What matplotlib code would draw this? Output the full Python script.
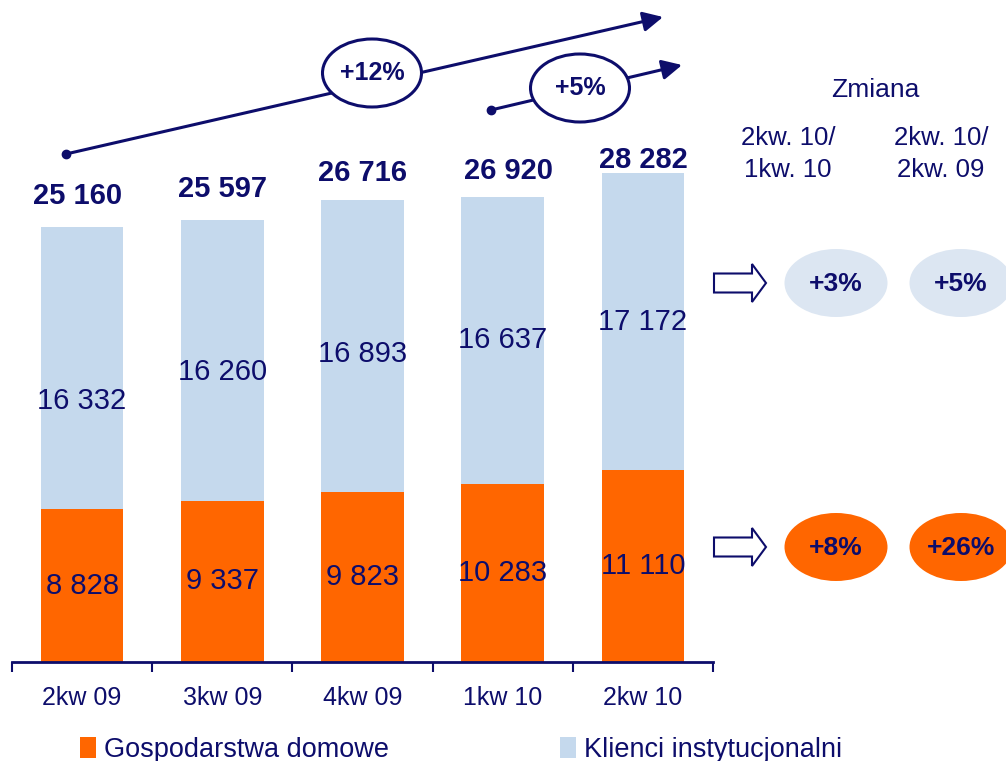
import matplotlib.pyplot as plt
from matplotlib.patches import Ellipse, Polygon
import numpy as np

plt.rcParams['font.family'] = ['Liberation Sans', 'DejaVu Sans']

# --- Data ---
quarters      = ["2kw 09", "3kw 09", "4kw 09", "1kw 10", "2kw 10"]
households    = [8828, 9337, 9823, 10283, 11110]
institutional = [16332, 16260, 16893, 16637, 17172]
series_names  = ["Gospodarstwa domowe", "Klienci instytucjonalni"]
trend_labels  = ["+12%", "+5%"]
change_title  = "Zmiana"
change_heads  = ["2kw. 10/\n1kw. 10", "2kw. 10/\n2kw. 09"]
change_inst   = ["+3%", "+5%"]
change_house  = ["+8%", "+26%"]

# --- Style ---
navy     = "#0D0D6B"
orange   = "#FF6600"
lblue    = "#C5D9ED"
pale     = "#DCE6F2"
W, H     = 1006, 761

def fmt(v):
    return f"{v:,}".replace(",", " ")

totals = np.array(households) + np.array(institutional)
x = np.arange(len(quarters))

fig = plt.figure(figsize=(W / 100, H / 100), dpi=100)
ax = fig.add_axes([12 / W, (H - 662) / H, 701 / W, 662 / H])

ax.bar(x, households, width=0.59, color=orange, label=series_names[0])
ax.bar(x, institutional, width=0.59, bottom=households, color=lblue, label=series_names[1])

ax.set_xlim(-0.5, 4.5)
ax.set_ylim(0, 38300)

# segment labels
blue_shift = [-33, -12, -8, 0, 0]   # px, small per-bar nudges as in the original
for i in x:
    ax.text(i, households[i] / 2, fmt(households[i]), ha="center", va="center",
            fontsize=21, color=navy)
    ax.annotate(fmt(institutional[i]), (i, households[i] + institutional[i] / 2),
                xytext=(0, blue_shift[i] * 0.72), textcoords="offset points",
                ha="center", va="center", fontsize=21, color=navy)

# totals above bars
top_gap = [23, 23, 19, 18, 5]
top_dx  = [-5, 0, 0, 6, 0]
for i in x:
    ax.annotate(fmt(totals[i]), (i, totals[i]),
                xytext=(top_dx[i] * 0.72, top_gap[i] * 0.72), textcoords="offset points",
                ha="center", va="baseline", fontsize=21, fontweight="bold", color=navy)

# axis
for s in ["top", "right", "left"]:
    ax.spines[s].set_visible(False)
ax.spines["bottom"].set_color(navy)
ax.spines["bottom"].set_linewidth(2)
ax.set_yticks([])
ax.set_xticks(x)
ax.set_xticklabels(quarters, fontsize=18, color=navy)
ax.tick_params(axis="x", which="major", length=0, pad=17)
ax.set_xticks(np.arange(-0.5, 5.0, 1.0), minor=True)
ax.tick_params(axis="x", which="minor", length=7, width=1.5, color=navy)

# legend
fig.legend(loc="center left", bbox_to_anchor=(80 / W, 1 - 750 / H), ncol=2,
           frameon=False, fontsize=19.5, labelcolor=navy, handlelength=0.6,
           handleheight=0.8, handletextpad=0.3, columnspacing=6.3,
           borderpad=0, borderaxespad=0)

# --- Overlay in pixel coordinates for the annotations ---
ov = fig.add_axes([0, 0, 1, 1], zorder=5)
ov.set_xlim(0, W)
ov.set_ylim(H, 0)
ov.axis("off")
ov.patch.set_alpha(0)

trends = [((66, 154), (663, 17), (372, 73)),
          ((491, 110), (682, 65), (580, 88))]
for (start, end, centre), lab in zip(trends, trend_labels):
    ov.annotate("", xy=end, xytext=start,
                arrowprops=dict(arrowstyle="-|>,head_length=0.6,head_width=0.3",
                                color=navy, lw=2.2, mutation_scale=20,
                                shrinkA=0, shrinkB=0))
    ov.plot(*start, "o", ms=6, color=navy)
    ov.add_patch(Ellipse(centre, 99, 68, fc="white", ec=navy, lw=2.2, zorder=3))
    ov.text(*centre, lab, ha="center", va="center", fontsize=18,
            fontweight="bold", color=navy, zorder=4)

# change panel
ov.text(875, 90, change_title, ha="center", va="center", fontsize=19, color=navy)
for cx, head in zip([788, 941], change_heads):
    ov.text(cx, 154, head, ha="center", va="center", fontsize=18.5,
            color=navy, linespacing=1.4, multialignment="center")

for cy, labels, fc in [(283, change_inst, pale), (547, change_house, orange)]:
    pts = [(714, cy - 9.5), (752, cy - 9.5), (752, cy - 19), (766, cy),
           (752, cy + 19), (752, cy + 9.5), (714, cy + 9.5)]
    ov.add_patch(Polygon(pts, closed=True, fc="white", ec=navy, lw=1.5))
    for cx, lab in zip([836, 961], labels):
        ov.add_patch(Ellipse((cx, cy), 103, 68, fc=fc, ec="none"))
        ov.text(cx, cy + 1, lab, ha="center", va="center", fontsize=19,
                fontweight="bold", color=navy)

fig.savefig("out.png", dpi=100)
